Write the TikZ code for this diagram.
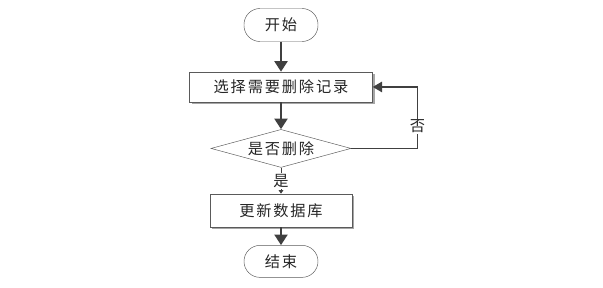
\documentclass[tikz,border=0pt]{standalone}
\usepackage{fontspec}
\usepackage{xcolor}
\usepackage{tikz}
\usetikzlibrary{arrows.meta,positioning,calc,shapes.geometric,shadows}
\newfontfamily\cjk[LetterSpace=12]{Noto Sans CJK SC}
\definecolor{linegray}{HTML}{404040}
\definecolor{edgegray}{HTML}{5A5A5A}
\definecolor{textgray}{HTML}{262626}
\definecolor{shadegray}{HTML}{A6A6A6}

\begin{document}
\begin{tikzpicture}[font=\cjk\fontsize{13pt}{15pt}\selectfont,text=textgray,
    terminal/.style={draw=edgegray,rounded corners=0.48cm,fill=white,
      minimum width=2.22cm,minimum height=0.99cm,inner sep=0pt},
    procbox/.style={draw=edgegray,fill=white,minimum height=0.9cm,inner sep=0pt,
      drop shadow={shadow xshift=0.06cm,shadow yshift=-0.06cm,fill=shadegray,opacity=1}},
    decision/.style={draw=edgegray,fill=white,diamond,aspect=3.7,inner sep=0pt,
      minimum width=4.2cm,minimum height=1.14cm},
    flow/.style={draw=linegray,line width=2pt,-{Triangle[length=9pt,width=11pt]}},
    back/.style={draw=linegray,line width=1.1pt,-{Triangle[length=8pt,width=9pt]}},
    yes/.style={draw=linegray,line width=0.8pt,-{Triangle[length=3pt,width=4pt]}}]
  \useasboundingbox (0,0) rectangle (18.09,-8.64);
  \node[terminal] (start) at (8.43,-0.75) {开始};
  \node[procbox,minimum width=5.49cm,below=0.9cm of start] (pick) {选择需要删除记录};
  \node[decision,below=0.81cm of pick] (ask) {是否删除};
  \node[procbox,minimum width=4.26cm,minimum height=0.99cm,below=0.78cm of ask] (update) {更新数据库};
  \node[terminal,minimum height=0.96cm,below=0.54cm of update] (stop) {结束};
  \coordinate[right=1.34cm of pick] (turn);
  \draw[flow] (start) -- (pick);
  \draw[flow] (pick) -- (ask);
  \draw[back] (ask.east) -| node[pos=0.68,fill=white,inner sep=1pt] {否} (turn) -- (pick.east);
  \draw[yes] (ask) -- node[fill=white,inner sep=1pt] {是} (update);
  \draw[flow] (update) -- (stop);
\end{tikzpicture}
\end{document}
